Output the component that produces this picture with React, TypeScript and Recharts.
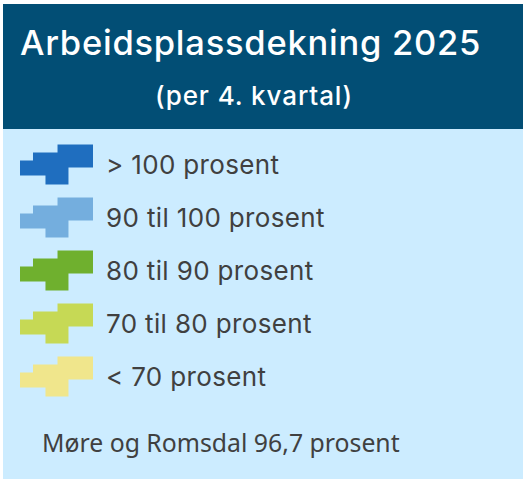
import React from 'react';
import { BarChart, Bar, XAxis, YAxis, Cell, LabelList } from 'recharts';

const categories = ['> 100 prosent', '90 til 100 prosent', '80 til 90 prosent', '70 til 80 prosent', '< 70 prosent'];
const swatchValues = [1, 1, 1, 1, 1];
const swatchColors = ['#1F6EBF', '#74AEDE', '#6FB02E', '#C6D955', '#F0E68C'];

const chartData = categories.map((name, i) => ({ name, value: swatchValues[i] }));

// outline of the little map piece, as fractions of the bar box
const outline = [
  [0.514, 0], [1, 0], [1, 0.575], [0.664, 0.575], [0.664, 1], [0.349, 1],
  [0.349, 0.775], [0, 0.775], [0, 0.4], [0.178, 0.4], [0.178, 0.2], [0.514, 0.2],
];

function MapSwatch(props: any) {
  const { x, y, width, height, fill } = props;
  const points = outline.map(([px, py]) => `${x + px * width},${y + py * height}`).join(' ');
  return <polygon points={points} fill={fill} />;
}

function RowLabel(props: any) {
  const { x, y, width, height, value } = props;
  return (
    <text x={x + width + 13} y={y + height / 2 + 9.5} fill="#404040" fontFamily="Inter" fontSize={26} letterSpacing={0.35}>
      {value}
    </text>
  );
}

export default function App() {
  return (
    <div style={{ position: 'absolute', left: 0, top: 0, width: 523, height: 479, background: '#fff', overflow: 'hidden' }}>
      <div style={{ position: 'absolute', left: 3, top: 4, width: 520, height: 475, background: '#CCECFF' }} />
      <div style={{ position: 'absolute', left: 3, top: 4, width: 520, height: 125, background: '#024E75' }} />
      <div style={{ position: 'absolute', left: 0, top: 0 }}>
        <BarChart
          width={523}
          height={479}
          data={chartData}
          layout="vertical"
          margin={{ top: 137.5, right: 430, bottom: 76.5, left: 20 }}
        >
          <XAxis type="number" domain={[0, 1]} hide />
          <YAxis type="category" dataKey="name" hide />
          <Bar dataKey="value" barSize={40} shape={<MapSwatch />} isAnimationActive={false}>
            {chartData.map((d, i) => (
              <Cell key={d.name} fill={swatchColors[i]} />
            ))}
            <LabelList dataKey="name" content={<RowLabel />} />
          </Bar>
          <text x={20} y={55} fill="#fff" fontFamily="Inter" fontSize={34.5} fontWeight={500} letterSpacing={0.75}>
            Arbeidsplassdekning 2025
          </text>
          <text x={254} y={105} fill="#fff" fontFamily="Inter" fontSize={26} fontWeight={500} letterSpacing={0.9} textAnchor="middle">
            (per 4. kvartal)
          </text>
          <text x={42} y={452} fill="#404040" fontFamily="Noto Sans" fontSize={24.8}>
            Møre og Romsdal 96,7 prosent
          </text>
        </BarChart>
      </div>
    </div>
  );
}
